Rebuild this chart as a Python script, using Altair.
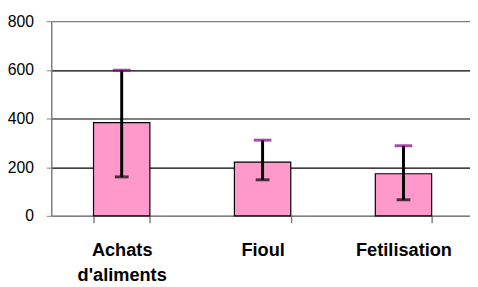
import altair as alt
import pandas as pd

categories = ["Achats d'aliments", "Fioul", "Fetilisation"]
values = [383, 221, 173]
err_low = [160, 148, 66]
err_high = [598, 311, 288]
y_ticks = [0, 200, 400, 600, 800]

df = pd.DataFrame({"cat": categories, "val": values, "lo": err_low, "hi": err_high})

FONT = "Liberation Sans"
X_RANGE = [0, 430]

x = alt.X("cat:N", sort=categories, title=None,
          scale=alt.Scale(paddingInner=0.6, paddingOuter=0.3, range=X_RANGE),
          axis=alt.Axis(labelAngle=0, labelFont=FONT, labelFontSize=18.5, labelFontWeight="bold",
                        labelColor="black", labelExpr="split(datum.label, ' ')",
                        labelLineHeight=26, labelPadding=18, labelBaseline="top",
                        domainColor="#808080", domainWidth=1.5, tickColor="#808080",
                        tickSize=7, tickBand="extent", tickWidth=1.5, grid=False))

y_scale = alt.Scale(domain=[0, 800], nice=False)

bars = alt.Chart(df).mark_bar(color="#FF99CC", stroke="black", strokeWidth=1.2).encode(
    x=x,
    y=alt.Y("val:Q", scale=y_scale, title=None,
            axis=alt.Axis(values=y_ticks, labelFont=FONT, labelFontSize=16, labelColor="black",
                          labelPadding=13, tickSize=5, tickColor="#808080", domainColor="#808080",
                          domainWidth=1.5,
                          gridColor={"condition": {"test": "datum.value == 800 || datum.value == 0",
                                                   "value": "#808080"}, "value": "#000000"},
                          gridWidth=1.2, grid=True)),
)

rule = alt.Chart(df).mark_rule(color="black", strokeWidth=3).encode(
    x=alt.X("cat:N", sort=categories),
    y=alt.Y("lo:Q", scale=y_scale),
    y2="hi:Q",
)

cap_top = alt.Chart(df).mark_tick(color="#800080", thickness=3, size=18, orient="horizontal").encode(
    x=alt.X("cat:N", sort=categories),
    y=alt.Y("hi:Q", scale=y_scale),
)
cap_bot = alt.Chart(df).mark_tick(color="black", thickness=3, size=14, orient="horizontal").encode(
    x=alt.X("cat:N", sort=categories),
    y=alt.Y("lo:Q", scale=y_scale),
)

chart = alt.layer(bars, rule, cap_top, cap_bot).properties(
    width=426, height=198,
    autosize=alt.AutoSizeParams(type="none"),
    padding={"left": 44, "top": 11, "right": 0, "bottom": 70},
).configure_view(stroke=None).configure(background="white")

chart.save("out.html", embed_options={"renderer": "svg", "actions": False})
